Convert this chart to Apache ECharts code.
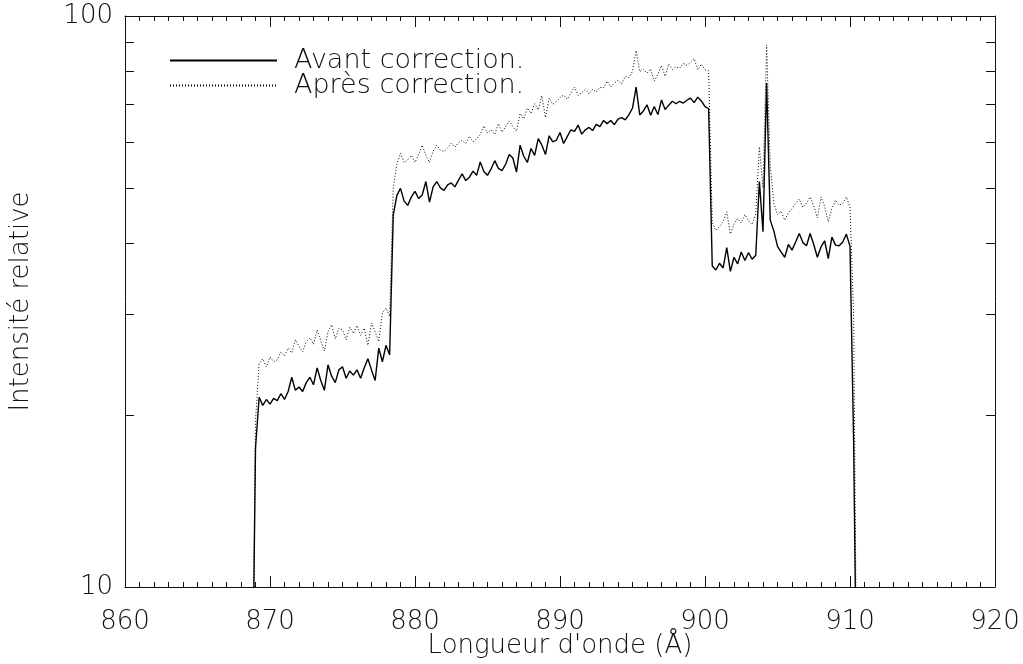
<!DOCTYPE html>
<html>
<head>
<meta charset="utf-8">
<script src="https://cdn.jsdelivr.net/npm/echarts@6/dist/echarts.min.js"></script>
<style>
html,body{margin:0;padding:0;background:#fff;}
#chart{width:1023px;height:664px;}
</style>
</head>
<body>
<div id="chart"></div>
<script>
// Wavelength grid: first sample (Å) and spacing (Å) — rows below are one Å each (4 samples)
const WAVE_START = 868.0;
const WAVE_STEP = 0.25;

const seriesNames = ['Avant correction.', 'Après correction.'];

// Intensité relative, avant correction (solid)
const avant = [
  5, 5, 5, 5,               // 868
  17.5, 21.5, 20.8, 21.3,   // 869
  20.9, 21.4, 21.2, 21.8,   // 870
  21.3, 22.0, 23.3, 22.1,   // 871
  22.4, 22.0, 22.8, 23.3,   // 872
  22.6, 24.2, 23.0, 22.1,   // 873
  24.5, 23.4, 22.8, 24.0,   // 874
  24.3, 23.2, 23.9, 23.5,   // 875
  24.0, 23.2, 24.2, 25.1,   // 876
  24.0, 23.0, 26.2, 24.8,   // 877
  26.5, 25.5, 44.8, 48.5,   // 878
  49.9, 47.4, 46.6, 48.2,   // 879
  49.3, 47.9, 48.6, 51.3,   // 880
  47.2, 50.2, 51.3, 50.0,   // 881
  49.5, 50.6, 51.0, 50.2,   // 882
  51.6, 52.9, 51.5, 52.2,   // 883
  53.5, 52.6, 55.5, 53.4,   // 884
  52.6, 54.0, 55.8, 54.1,   // 885
  53.6, 55.0, 57.2, 56.4,   // 886
  53.3, 59.4, 56.8, 55.4,   // 887
  58.6, 57.0, 61.0, 59.4,   // 888
  57.2, 61.7, 60.2, 60.6,   // 889
  62.5, 59.8, 61.5, 63.2,   // 890
  62.8, 64.4, 62.1, 63.2,   // 891
  63.8, 63.0, 64.6, 64.0,   // 892
  65.6, 64.8, 65.6, 64.5,   // 893
  66.0, 66.4, 65.8, 67.1,   // 894
  69.0, 75.1, 67.1, 68.2,   // 895
  69.9, 67.0, 69.4, 67.2,   // 896
  71.3, 68.6, 69.8, 70.9,   // 897
  70.2, 70.9, 70.4, 71.2,   // 898
  71.8, 70.5, 72.1, 71.0,   // 899
  69.4, 68.8, 36.5, 35.9,   // 900
  36.9, 36.2, 39.3, 35.7,   // 901
  37.8, 36.8, 38.6, 37.3,   // 902
  38.5, 37.5, 38.1, 51.3,   // 903
  41.9, 76.3, 43.9, 42.0,   // 904
  39.5, 38.6, 37.8, 39.8,   // 905
  38.9, 40.2, 41.6, 40.1,   // 906
  39.6, 41.6, 39.8, 37.8,   // 907
  39.4, 40.4, 37.6, 41.0,   // 908
  39.7, 39.6, 40.2, 41.5,   // 909
  39.5, 18.0, 5, 5          // 910
];

// Intensité relative, après correction (dotted)
const apres = [
  5, 5, 5, 5,               // 868
  19.5, 24.6, 25.1, 24.3,   // 869
  25.3, 24.8, 25.0, 25.8,   // 870
  25.4, 26.2, 25.7, 27.1,   // 871
  26.4, 25.8, 26.9, 27.3,   // 872
  26.6, 28.2, 27.0, 25.9,   // 873
  28.0, 28.8, 27.2, 28.4,   // 874
  28.2, 27.1, 28.5, 27.8,   // 875
  28.7, 27.6, 28.4, 26.5,   // 876
  29.0, 28.0, 26.9, 30.2,   // 877
  30.8, 29.8, 50.0, 55.0,   // 878
  57.5, 55.4, 56.0, 57.0,   // 879
  55.4, 57.2, 59.4, 57.0,   // 880
  55.4, 58.0, 59.4, 58.2,   // 881
  57.9, 58.8, 59.8, 58.9,   // 882
  60.0, 60.6, 59.8, 61.6,   // 883
  60.2, 60.9, 62.0, 64.2,   // 884
  62.4, 63.2, 62.0, 64.8,   // 885
  62.6, 64.0, 65.5, 64.0,   // 886
  62.8, 67.5, 66.0, 69.0,   // 887
  67.5, 70.2, 68.5, 72.5,   // 888
  66.4, 71.8, 70.0, 70.8,   // 889
  72.0, 72.7, 71.5, 73.2,   // 890
  75.1, 72.6, 73.4, 74.4,   // 891
  73.0, 74.4, 73.6, 75.0,   // 892
  74.8, 76.9, 75.1, 76.3,   // 893
  77.2, 76.0, 78.4, 78.0,   // 894
  80.0, 87.0, 79.9, 80.6,   // 895
  79.4, 80.8, 76.9, 79.0,   // 896
  81.9, 78.4, 82.4, 80.6,   // 897
  81.5, 81.0, 82.6, 82.0,   // 898
  83.0, 84.2, 80.5, 82.4,   // 899
  80.5, 80.2, 43.5, 42.1,   // 900
  42.8, 43.6, 45.4, 41.5,   // 901
  43.2, 44.2, 43.4, 44.9,   // 902
  43.8, 43.1, 45.0, 59.0,   // 903
  50.0, 89.0, 54.6, 47.0,   // 904
  44.9, 45.5, 43.9, 45.2,   // 905
  46.0, 47.0, 47.8, 46.2,   // 906
  47.0, 48.2, 46.5, 44.3,   // 907
  48.2, 46.4, 43.6, 46.0,   // 908
  47.6, 46.6, 47.0, 48.2,   // 909
  46.3, 30.0, 5, 5          // 910
];

const yTickValues = [20, 30, 40, 50, 60, 70, 80, 90];
const yLabelValues = [10, 100];

const FONT = 'DejaVu Sans';
const INK = '#111';

function toPairs(arr) {
  return arr.map((v, i) => [WAVE_START + i * WAVE_STEP, v]);
}

const xCommon = {
  type: 'value', min: 860, max: 920, interval: 10,
  axisLine: { show: true, onZero: false, lineStyle: { color: INK, width: 1 } },
  axisTick: { show: true, inside: true, length: 11, lineStyle: { color: INK } },
  minorTick: { show: true, splitNumber: 10, length: 5, lineStyle: { color: INK } },
  splitLine: { show: false }, minorSplitLine: { show: false }
};
const yCommon = {
  type: 'log', logBase: 10, min: 10, max: 100,
  axisLine: { show: true, onZero: false, lineStyle: { color: INK, width: 1 } },
  axisTick: { show: true, inside: true, length: 9, customValues: yTickValues, lineStyle: { color: INK } },
  splitLine: { show: false }
};

const chart = echarts.init(document.getElementById('chart'), null, { renderer: 'canvas' });
chart.setOption({
  animation: false,
  backgroundColor: '#fff',
  grid: { left: 125, right: 28, top: 16, bottom: 77, containLabel: false, outerBoundsMode: 'none' },
  legend: {
    orient: 'vertical', left: 169, top: 47, padding: 0,
    itemWidth: 107, itemHeight: 20, itemGap: -2,
    data: seriesNames,
    itemStyle: { opacity: 0 },
    textStyle: { fontFamily: FONT, fontWeight: 200, fontSize: 27, lineHeight: 24, color: INK, padding: [0, 0, 0, 12] }
  },
  xAxis: [
    Object.assign({}, xCommon, {
      position: 'bottom',
      name: "Longueur d'onde (Å)", nameLocation: 'middle', nameGap: 46, nameMoveOverlap: false,
      nameTextStyle: { fontFamily: FONT, fontWeight: 200, fontSize: 26, color: INK },
      axisLabel: { show: true, margin: 22, fontFamily: FONT, fontWeight: 200, fontSize: 26, color: INK }
    }),
    Object.assign({}, xCommon, { position: 'top', axisLabel: { show: false } })
  ],
  yAxis: [
    Object.assign({}, yCommon, {
      position: 'left',
      name: 'Intensité relative', nameLocation: 'middle', nameGap: 91, nameMoveOverlap: false,
      nameTextStyle: { fontFamily: FONT, fontWeight: 200, fontSize: 26, color: INK },
      axisLabel: { show: true, margin: 12, customValues: yLabelValues, fontFamily: FONT, fontWeight: 200, fontSize: 26, color: INK }
    }),
    Object.assign({}, yCommon, { position: 'right', axisLabel: { show: false } })
  ],
  series: [
    {
      name: seriesNames[0], type: 'line', xAxisIndex: 0, yAxisIndex: 0,
      data: toPairs(avant), symbol: 'none', clip: true,
      lineStyle: { color: '#000', width: 1.4, type: 'solid' },
      itemStyle: { color: '#000' }
    },
    {
      name: seriesNames[1], type: 'line', xAxisIndex: 0, yAxisIndex: 0,
      data: toPairs(apres), symbol: 'none', clip: true,
      lineStyle: { color: '#000', width: 1, type: [1, 2] },
      itemStyle: { color: '#000' }
    }
  ]
});
</script>
</body>
</html>
